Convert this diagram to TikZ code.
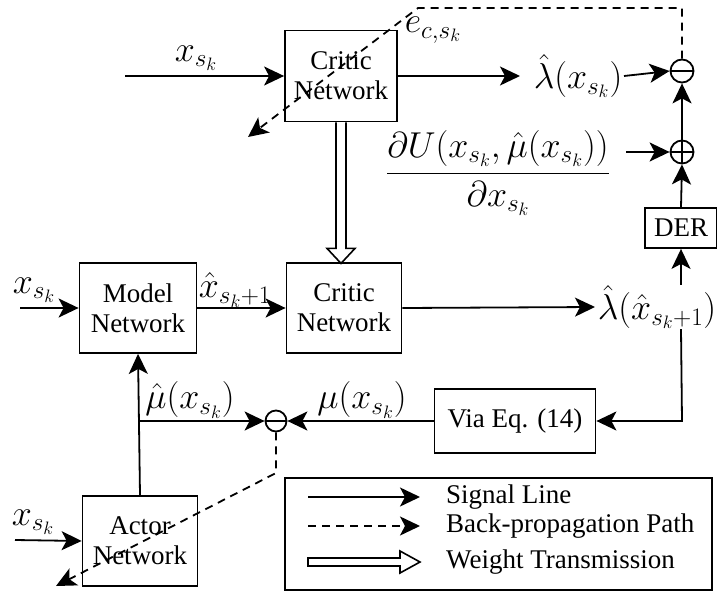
\documentclass[tikz,border=0pt]{standalone}
\usepackage{fix-cm}
\usepackage[no-math]{fontspec}
\setmainfont{Liberation Serif}
\usetikzlibrary{arrows.meta,calc}
\begin{document}
\begin{tikzpicture}[x=1pt,y=-1pt,
  every node/.style={font=\fontsize{27}{30}\selectfont},
  blk/.style={draw,line width=1.8pt,align=center,inner sep=0pt},
  ln/.style={line width=1.8pt},
  sig/.style={ln,-{Stealth[length=20pt,width=19pt,inset=5pt]}},
  bp/.style={sig,dash pattern=on 8pt off 6pt},
  sumc/.style={draw,circle,line width=1.8pt,minimum size=23pt,inner sep=0pt},
  lab/.style={inner sep=0pt},
  mlab/.style={inner sep=0pt,font=\fontsize{36}{40}\selectfont},
  hollow/.style={draw,line width=1.6pt,fill=white,line join=miter}]
\useasboundingbox (0,0) rectangle (717,594);

% blocks
\node[blk,minimum width=112pt,minimum height=91pt] (c1) at (341,76) {Critic\\Network};
\node[blk,minimum width=115pt,minimum height=90pt] (c2) at (344,308) {Critic\\Network};
\node[blk,minimum width=117pt,minimum height=90pt] (mod) at (138,308) {Model\\Network};
\node[blk,minimum width=115pt,minimum height=90pt] (act) at (140,541) {Actor\\Network};
\node[blk,minimum width=161pt,minimum height=64pt] (via) at (515,421) {Via Eq. (14)};
\node[blk,minimum width=72pt,minimum height=40pt] (der) at (681,228) {DER};

% summing circles
\node[sumc] (sm) at (682,71) {};
\draw[ln] (sm.west) -- (sm.east);
\node[sumc] (sp) at (682,152) {};
\draw[ln] (sp.west) -- (sp.east) (sp.north) -- (sp.south);
\node[sumc,minimum size=21pt] (sa) at (276,421) {};
\draw[ln] (sa.west) -- (sa.east);

% labels
\node[mlab] (xin1) at (196,58) {$x_{s_k}$};
\node[mlab] (ec) at (433,30) {$e_{c,s_k}$};
\node[mlab] (lam) at (578,76) {$\hat{\lambda}(x_{s_k})$};
\node[mlab] (frac) at (498,173) {$\displaystyle\frac{\partial U(x_{s_k},\hat{\mu}(x_{s_k}))}{\partial x_{s_k}}$};
\node[mlab] (lam2) at (657,307) {$\hat{\lambda}(\hat{x}_{s_k+1})$};
\node[mlab] (xin2) at (34,290) {$x_{s_k}$};
\node[mlab] (xh) at (235,290) {$\hat{x}_{s_k+1}$};
\node[mlab] (muh) at (190,400) {$\hat{\mu}(x_{s_k})$};
\node[mlab] (mu) at (362,400) {$\mu(x_{s_k})$};
\node[mlab] (xin3) at (33,522) {$x_{s_k}$};

% free ends
\coordinate (a1) at (125,76);
\coordinate (a2) at (20,308);
\coordinate (a3) at (15,540);
\coordinate (bpc) at (682,8);
\coordinate (bpd) at (418,8);
\coordinate (bpe) at (248,137);
\coordinate (bpf) at (276,473);
\coordinate (bpg) at (56,586);
\coordinate (br) at (140,421);
\coordinate (rc) at (682,421);

% signal lines
\draw[sig] (a1) -- (c1.west);
\draw[sig] (c1.east) -- (520,76);
\draw[sig] (624,76) -- (sm.west);
\draw[sig] (626,152) -- (sp.west);
\draw[sig] (sp.north) -- (sm.south);
\draw[sig] (der.north) -- (sp.south);
\draw[sig] (der.south |- lam2.north) -- (der.south);
\draw[sig] (a2) -- (mod.west);
\draw[sig] (mod.east) -- (c2.west);
\draw[sig] (c2.east) -- (595,307);
\draw[sig] (der.south |- lam2.south) -- (rc) -- (via.east);
\draw[sig] (via.west) -- (sa.east);
\draw[sig] (act.north) -- (mod.south);
\draw[sig] (br) -- (sa.west);
\draw[sig] (a3) -- (act.west);

% back-propagation
\draw[bp] (sm.north) -- (bpc) -- (bpd) -- (bpe);
\draw[bp] (sa.south) -- (bpf) -- (bpg);

% weight transmission
\draw[hollow] ($(c1.south)+(-5,0)$) -- ($(c1.south)+(-5,126)$) -- ($(c1.south)+(-14,126)$)
  -- ($(c1.south)+(0,141)$) -- ($(c1.south)+(14,126)$) -- ($(c1.south)+(5,126)$) -- ($(c1.south)+(5,0)$);

% legend
\node[draw,line width=1.6pt,minimum width=427pt,minimum height=112pt,inner sep=0pt] (leg) at (498.5,534) {};
\coordinate (l1a) at (308,497);
\coordinate (l1b) at (420,497);
\coordinate (l2a) at (308,526);
\coordinate (l2b) at (420,526);
\coordinate (l3a) at (308,562);
\draw[sig] (l1a) -- (l1b);
\draw[bp] (l2a) -- (l2b);
\draw[hollow] (l3a) ++(0,-4) -- ++(92,0) -- ++(0,-7) -- ++(20,11) -- ++(-20,11) -- ++(0,-7) -- ++(-92,0) -- cycle;
\node[lab,anchor=west] (t1) at (446,497) {Signal Line};
\node[lab,anchor=west] (t2) at (446,526) {Back-propagation Path};
\node[lab,anchor=west] (t3) at (446,562) {Weight Transmission};
\end{tikzpicture}
\end{document}
